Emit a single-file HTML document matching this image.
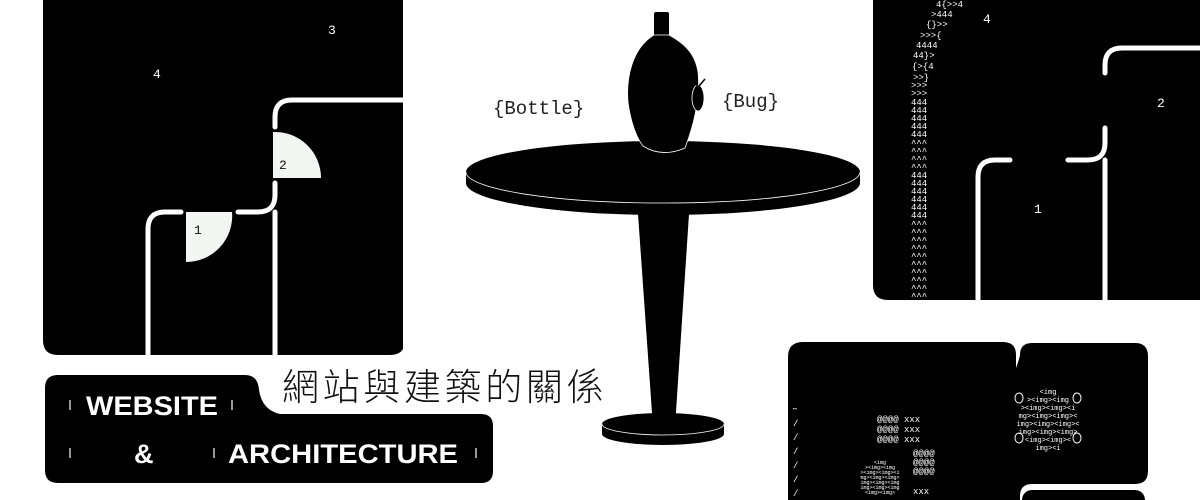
<!DOCTYPE html>
<html><head><meta charset="utf-8"><style>
html,body{margin:0;padding:0;background:#fff;width:1200px;height:500px;overflow:hidden}
svg{display:block}
.m{font-family:"Liberation Mono",monospace;fill:#fff}
</style></head><body>
<svg width="1200" height="500" viewBox="0 0 1200 500" xmlns="http://www.w3.org/2000/svg">
<!-- LEFT BLOCK -->
<path d="M43,0 H405 V340 Q405,355 390,355 H58 Q43,355 43,340 Z" fill="#000"/>
<g fill="none" stroke="#fff" stroke-width="5" stroke-linecap="round">
<path d="M410,100 H292 Q275,100 275,117 V127"/>
<path d="M275,183 V195 Q275,212 258,212 H238"/>
<path d="M181,212 H165 Q148,212 148,229 V360"/>
<path d="M275,212 V360"/>
</g>
<rect x="403" y="0" width="6" height="360" fill="#fff"/>
<path d="M273,132 A46,46 0 0 1 321,178 H273 Z" fill="#f2f6f2"/>
<path d="M186,212 H232 A46,46 0 0 1 186,262 Z" fill="#f2f6f2"/>
<g class="m" font-size="13">
<text x="328" y="34">3</text><text x="153" y="78">4</text>
<text x="279" y="169" style="fill:#111">2</text>
<text x="194" y="234" style="fill:#111">1</text>
</g>

<!-- RIGHT TOP BLOCK -->
<path d="M873,0 H1200 V300 H888 Q873,300 873,285 Z" fill="#000"/>
<g fill="none" stroke="#fff" stroke-width="5" stroke-linecap="round">
<path d="M1205,48 H1122 Q1105,48 1105,65 V73"/>
<path d="M1105,128 V143 Q1105,160 1088,160 H1068"/>
<path d="M1010,160 H995 Q978,160 978,177 V305"/>
<path d="M1105,160 V305"/>
</g>
<g class="m" font-size="13"><text x="983" y="23">4</text><text x="1157" y="107">2</text><text x="1034" y="213">1</text></g>
<g class="m" font-size="9">
<text x="936" y="7">4{&gt;&gt;4</text><text x="931" y="17">&gt;444</text><text x="926" y="27">{}&gt;&gt;</text>
<text x="920" y="38">&gt;&gt;&gt;{</text><text x="916" y="48">4444</text><text x="913" y="58">44}&gt;</text>
<text x="912" y="69">{&gt;{4</text><text x="913" y="80">&gt;&gt;}</text><text x="911" y="88">&gt;&gt;&gt;</text>
<text x="911" y="96">&gt;&gt;&gt;</text>
<text x="911" y="105">444</text><text x="911" y="113">444</text><text x="911" y="121">444</text><text x="911" y="129">444</text><text x="911" y="137">444</text>
<text x="911" y="146">^^^</text><text x="911" y="154">^^^</text><text x="911" y="162">^^^</text><text x="911" y="170">^^^</text>
<text x="911" y="178">444</text><text x="911" y="186">444</text><text x="911" y="194">444</text><text x="911" y="202">444</text><text x="911" y="210">444</text><text x="911" y="218">444</text>
<text x="911" y="227">^^^</text><text x="911" y="235">^^^</text><text x="911" y="243">^^^</text><text x="911" y="251">^^^</text><text x="911" y="259">^^^</text><text x="911" y="267">^^^</text><text x="911" y="275">^^^</text><text x="911" y="283">^^^</text><text x="911" y="291">^^^</text><text x="911" y="299">^^^</text>
</g>

<!-- BOTTOM RIGHT -->
<path d="M788,500 V357 Q788,342 803,342 H1003 Q1016,342 1016,355 V368 Q1019,360 1020,355 V355 Q1020,343 1032,343 H1135 Q1148,343 1148,356 V471 Q1148,484 1135,484 H1032 Q1020,484 1020,496 V500 Z" fill="#000"/>
<rect x="1022" y="490" width="123" height="20" rx="10" fill="#000"/>
<g class="m" font-size="9">
<text x="793" y="416">⎴</text>
<text x="793" y="426">/</text><text x="793" y="440">/</text><text x="793" y="454">/</text><text x="793" y="468">/</text><text x="793" y="482">/</text><text x="793" y="496">/</text>
<text x="877" y="422">@@@@ xxx</text><text x="877" y="432">@@@@ xxx</text><text x="877" y="442">@@@@ xxx</text>
<text x="913" y="456">@@@@</text><text x="913" y="465">@@@@</text><text x="913" y="474">@@@@</text>
<text x="913" y="494">xxx</text>
</g>
<g class="m" font-size="5" text-anchor="middle">
<text x="880" y="464">&lt;img</text><text x="880" y="469">&gt;&lt;img&gt;&lt;img</text><text x="880" y="474">&gt;&lt;img&gt;&lt;img&gt;&lt;i</text>
<text x="880" y="479">mg&gt;&lt;img&gt;&lt;img&gt;</text><text x="880" y="484">img&gt;&lt;img&gt;&lt;img</text><text x="880" y="489">img&gt;&lt;img&gt;&lt;img</text><text x="880" y="494">&lt;img&gt;&lt;img&gt;</text>
</g>
<g class="m" font-size="7" text-anchor="middle">
<text x="1048" y="394">&lt;img</text><text x="1048" y="402">&gt;&lt;img&gt;&lt;img</text><text x="1048" y="410">&gt;&lt;img&gt;&lt;img&gt;&lt;i</text>
<text x="1048" y="418">mg&gt;&lt;img&gt;&lt;img&gt;&lt;</text><text x="1048" y="426">img&gt;&lt;img&gt;&lt;img&gt;&lt;</text><text x="1048" y="434">img&gt;&lt;img&gt;&lt;img&gt;</text>
<text x="1048" y="442">&lt;img&gt;&lt;img&gt;&lt;</text><text x="1048" y="450">img&gt;&lt;i</text>
</g>
<g fill="none" stroke="#fff" stroke-width="1"><ellipse cx="1019" cy="398" rx="4" ry="5"/><ellipse cx="1077" cy="398" rx="4" ry="5"/><ellipse cx="1019" cy="438" rx="4" ry="5"/><ellipse cx="1077" cy="438" rx="4" ry="5"/></g>

<!-- TITLE -->
<path d="M45,388 Q45,375 58,375 H245 Q258,375 259,390 Q262,410 280,414 H481 Q493,414 493,426 V471 Q493,483 481,483 H58 Q45,483 45,470 Z" fill="#000"/>
<g font-family="'Liberation Sans',sans-serif" font-weight="bold" fill="#fff" font-size="27">
<text x="86" y="415" textLength="132" lengthAdjust="spacingAndGlyphs">WEBSITE</text><text x="134" y="463">&amp;</text><text x="228" y="463" textLength="230" lengthAdjust="spacingAndGlyphs">ARCHITECTURE</text>
</g>
<g stroke="#fff" stroke-width="1.2"><line x1="70" y1="400" x2="70" y2="410"/><line x1="232" y1="400" x2="232" y2="410"/><line x1="70" y1="448" x2="70" y2="458"/><line x1="214" y1="448" x2="214" y2="458"/><line x1="476" y1="448" x2="476" y2="458"/></g>
<text x="282" y="400" font-family="'Liberation Sans','Noto Sans CJK TC',sans-serif" font-size="37" font-weight="300" letter-spacing="4.5" fill="#111" textLength="326" lengthAdjust="spacing">網站與建築的關係</text>

<!-- TABLE -->
<ellipse cx="663" cy="424" rx="61" ry="11" fill="#000"/>
<rect x="602" y="424" width="122" height="10" fill="#000"/>
<ellipse cx="663" cy="434" rx="61" ry="11" fill="#000"/>
<path d="M602,424 A61,11 0 0 0 724,424" fill="none" stroke="#fff" stroke-width="0.8"/>
<path d="M638,214 H689 L675,427 H653 Z" fill="#000"/>
<ellipse cx="663" cy="183" rx="197" ry="32" fill="#000"/>
<rect x="466" y="172" width="394" height="12" fill="#000"/>
<ellipse cx="663" cy="172" rx="197" ry="31" fill="#000"/>
<path d="M466,172 A197,31 0 0 0 860,172" fill="none" stroke="#fff" stroke-width="0.8"/>
<!-- bottle -->
<rect x="654" y="12" width="15" height="26" rx="2" fill="#000"/>
<path d="M654,35 C632,48 626,78 628,102 C631,125 638,140 643,146 Q662,158 685,148 C692,130 701,100 698,72 C695,52 682,42 669,35 Z" fill="#000" stroke="#fff" stroke-width="0.8"/>
<ellipse cx="698" cy="98" rx="6" ry="13" fill="#000" stroke="#fff" stroke-width="0.8"/>
<path d="M697,86 L696,78 M699,86 L705,79" stroke="#000" stroke-width="1.5"/>
<g font-family="'Liberation Mono',monospace" font-size="19" fill="#222">
<text x="493" y="114">{Bottle}</text><text x="722" y="107">{Bug}</text>
</g>
</svg>
</body></html>
